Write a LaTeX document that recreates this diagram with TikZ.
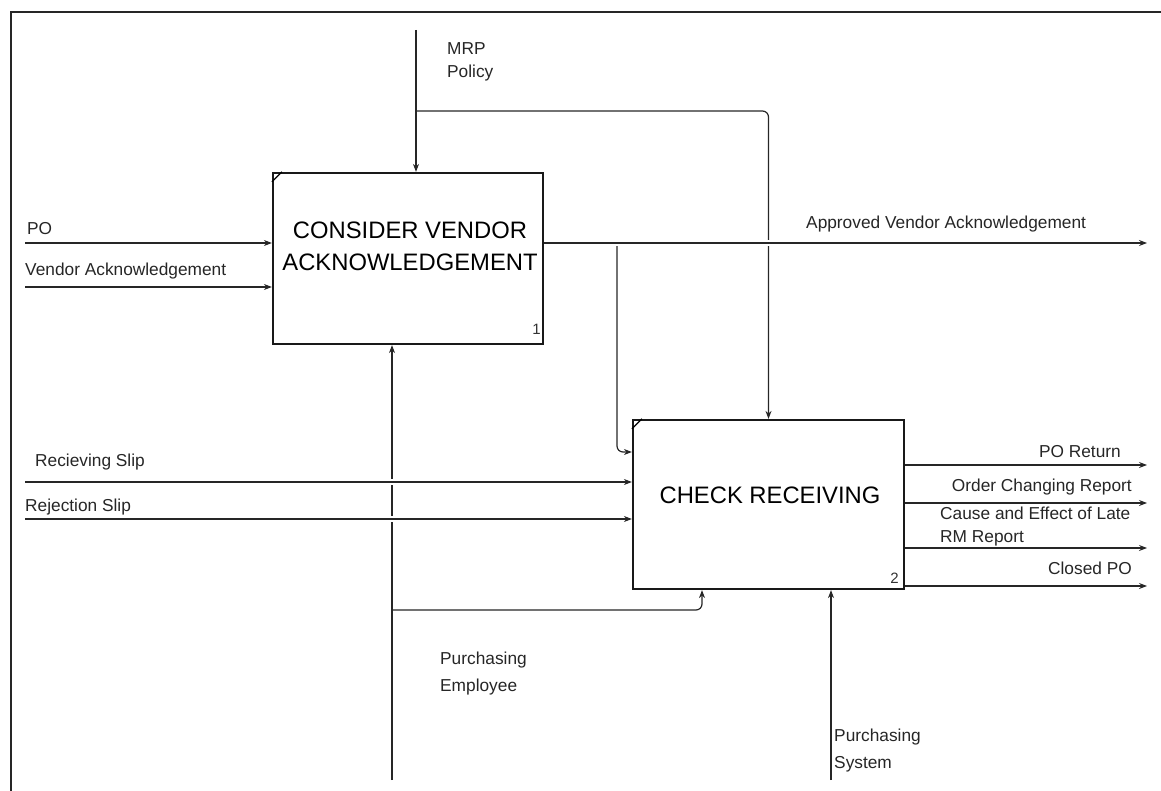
\documentclass[tikz,border=0pt]{standalone}
\usepackage{fontspec}
\setmainfont{Liberation Sans}
\usetikzlibrary{arrows.meta}
\begin{document}
\begin{tikzpicture}[x=1pt,y=-1pt,
  flow/.style={line width=1.2pt, draw=black!85},
  tip/.style={-{Stealth[length=8pt,width=6pt]}},
  halo/.style={preaction={draw=white,line width=6pt}},
  act/.style={draw=black!90, line width=2.2pt, fill=white, inner sep=0pt},
  acttext/.style={font=\fontsize{23.8}{32}\selectfont, align=center, inner sep=0pt},
  lbl/.style={font=\fontsize{17.3}{23}\selectfont, inner sep=0pt, text=black!85},
  lblwide/.style={lbl, font=\fontsize{17.3}{27}\selectfont},
  num/.style={font=\fontsize{15}{15}\selectfont, inner sep=0pt, text=black!80},
  frame/.style={line width=1.5pt, draw=black!85}]
\useasboundingbox (0,0) rectangle (1161,791);

% frame
\coordinate (fBL) at (11,791);
\coordinate (fTL) at (11,12);
\coordinate (fTR) at (1161,12);
\draw[frame] (fBL) -- (fTL) -- (fTR);

% activity boxes
\node[act, minimum width=270pt, minimum height=171pt] (b1) at (408,258.5) {};
\node[act, minimum width=271pt, minimum height=169pt] (b2) at (768.5,504.5) {};
\node[acttext] (b1t) at (410,246) {CONSIDER VENDOR\\ACKNOWLEDGEMENT};
\node[acttext] (b2t) at (770,495) {CHECK RECEIVING};
\draw[line width=1.2pt] ([yshift=-10pt]b1.north west) -- ([xshift=10pt]b1.north west);
\draw[line width=1.2pt] ([yshift=-10pt]b2.north west) -- ([xshift=10pt]b2.north west);
\node[num, anchor=east] (n1) at (541,329) {1};
\node[num, anchor=east] (n2) at (899,578) {2};

% helper coordinates
\coordinate (mrpTop) at (416,30);
\coordinate (mrpJ) at (416,111);
\coordinate (poL) at (25,243);
\coordinate (vaL) at (25,287);
\coordinate (avoR) at (1147,243);
\coordinate (brJ) at (617,245);
\coordinate (y452) at (0,452);
\coordinate (rsL) at (25,482);
\coordinate (rjL) at (25,519);
\coordinate (m1B) at (392,780);
\coordinate (m1J) at (392,610);
\coordinate (c702) at (702,0);
\coordinate (m2B) at (831,780);
\coordinate (o1) at (1147,465);
\coordinate (o2) at (1147,503);
\coordinate (o3) at (1147,548);
\coordinate (o4) at (1147,586);

% vertical connectors (drawn first, so crossings break them)
\draw[flow,tip] (mrpTop) -- (mrpTop |- b1.north);
\draw[flow,tip,rounded corners=6pt] (mrpJ) -| (b2.north);
\draw[flow,tip,rounded corners=6pt] (brJ) |- (b2.west |- y452);
\draw[flow,tip] (m1B) -- (m1B |- b1.south);
\draw[flow,tip,rounded corners=6pt] (m1J) -| (c702 |- b2.south);
\draw[flow,tip] (m2B) -- (m2B |- b2.south);

% horizontal connectors
\draw[flow,tip] (poL) -- (poL -| b1.west);
\draw[flow,tip] (vaL) -- (vaL -| b1.west);
\draw[flow,tip,halo] (avoR -| b1.east) -- (avoR);
\draw[flow,tip,halo] (rsL) -- (rsL -| b2.west);
\draw[flow,tip,halo] (rjL) -- (rjL -| b2.west);
\draw[flow,tip] (o1 -| b2.east) -- (o1);
\draw[flow,tip] (o2 -| b2.east) -- (o2);
\draw[flow,tip] (o3 -| b2.east) -- (o3);
\draw[flow,tip] (o4 -| b2.east) -- (o4);

% labels
\node[lbl, anchor=west, align=left] (lMRP) at (447,62) {MRP\\Policy};
\node[lbl, anchor=west] (lPO) at (27,229) {PO};
\node[lbl, anchor=west] (lVA) at (25,271) {Vendor Acknowledgement};
\node[lbl, anchor=west] (lAVA) at (806,224) {Approved Vendor Acknowledgement};
\node[lbl, anchor=west] (lRS) at (35,462) {Recieving Slip};
\node[lbl, anchor=west] (lRJ) at (25,507) {Rejection Slip};
\node[lbl, anchor=east] (lPR) at (1121,452) {PO Return};
\node[lbl, anchor=east] (lOC) at (1132,487) {Order Changing Report};
\node[lbl, anchor=west, align=left] (lCE) at (940,527) {Cause and Effect of Late\\RM Report};
\node[lbl, anchor=east] (lCP) at (1132,568) {Closed PO};
\node[lblwide, anchor=west, align=left] (lPE) at (440,674) {Purchasing\\Employee};
\node[lblwide, anchor=west, align=left] (lPS) at (834,751) {Purchasing\\System};
\end{tikzpicture}
\end{document}
